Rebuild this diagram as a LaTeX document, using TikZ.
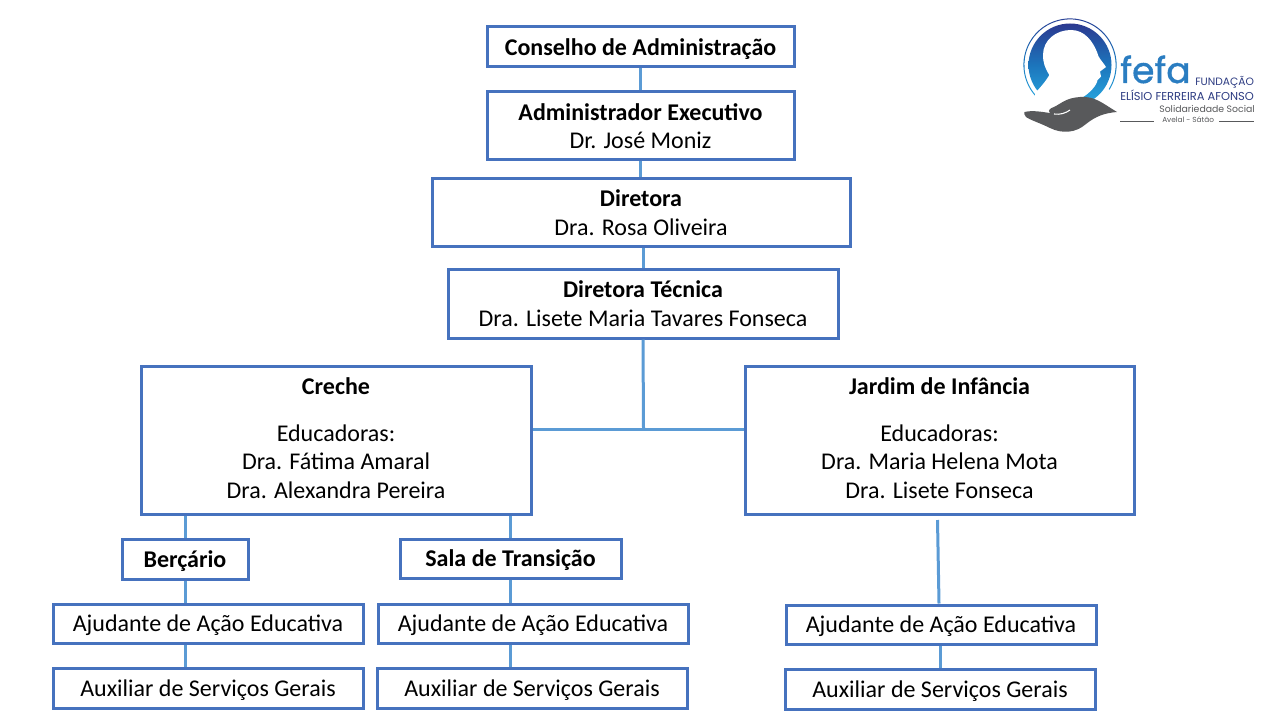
\documentclass[tikz,border=0pt]{standalone}
\usepackage{fontspec}
\setmainfont{Carlito}
\newfontfamily\logofont{Poppins}
\newfontfamily\fefafont[FakeBold=1.2]{Poppins}
\usepackage{xcolor}
\usetikzlibrary{positioning}
\definecolor{boxblue}{RGB}{70, 114, 190}
\definecolor{linkblue}{RGB}{91, 155, 213}
\definecolor{ringdark}{RGB}{43, 57, 144}
\definecolor{ringmid}{RGB}{28, 117, 188}
\definecolor{ringlight}{RGB}{41, 171, 226}
\definecolor{logonavy}{RGB}{45, 60, 130}
\definecolor{logogray}{RGB}{88, 89, 91}

\begin{document}
\begin{tikzpicture}[
    x=0.75pt, y=-0.75pt,
    orgbox/.style={rectangle, draw=boxblue, line width=2.25pt, fill=white, inner sep=0pt, font=\fontsize{18}{21.4}\selectfont, align=center},
    onebox/.style={orgbox, text depth=0.5pt},
    bigbox/.style={orgbox, text depth=3pt, minimum height=111pt},
    link/.style={linkblue, line width=2.25pt},
    logotext/.style={inner sep=0pt, anchor=base west, logonavy}
]
\useasboundingbox (0,0) rectangle (1280,720);

% Top of the chart
\node[onebox, minimum width=230.25pt, minimum height=30pt] (conselho) at (640.5,47) {\textbf{Conselho de Administração}};
\node[orgbox, minimum width=230.25pt, minimum height=51pt] (admin) at (640.5,126) {\textbf{Administrador Executivo}\\Dr. José Moniz};
\node[orgbox, minimum width=313.5pt, minimum height=50.25pt] (diretora) at (641,212.5) {\textbf{Diretora}\\Dra. Rosa Oliveira};
\node[orgbox, minimum width=292.5pt, minimum height=51.75pt] (tecnica) at (643,303.5) {\textbf{Diretora Técnica}\\Dra. Lisete Maria Tavares Fonseca};

% Creche and Jardim
\node[bigbox, minimum width=292.5pt] (creche) at (336,440) {\textbf{Creche}\\[13.5pt]Educadoras:\\Dra. Fátima Amaral\\Dra. Alexandra Pereira};
\node[bigbox, minimum width=291.75pt] (jardim) at (939.5,440) {\textbf{Jardim de Infância}\\[13.5pt]Educadoras:\\Dra. Maria Helena Mota\\Dra. Lisete Fonseca};

% Rooms
\node[onebox, minimum width=94.5pt, minimum height=30pt] (bercario) at (185,559) {\textbf{Berçário}};
\node[onebox, minimum width=165.75pt, minimum height=29.25pt] (sala) at (510.5,558.5) {\textbf{Sala de Transição}};

% Staff
\node[onebox, minimum width=232.5pt, minimum height=29.25pt] (ajudanteA) at (208,623.5) {Ajudante de Ação Educativa};
\node[onebox, minimum width=232.5pt, minimum height=29.25pt] (ajudanteB) at (533,623.5) {Ajudante de Ação Educativa};
\node[onebox, minimum width=232.5pt, minimum height=29.25pt] (ajudanteC) at (941,624.5) {Ajudante de Ação Educativa};
\node[onebox, minimum width=232.5pt, minimum height=30pt] (auxiliarA) at (208,688) {Auxiliar de Serviços Gerais};
\node[onebox, minimum width=232.5pt, minimum height=30pt] (auxiliarB) at (532,688) {Auxiliar de Serviços Gerais};
\node[onebox, minimum width=232.5pt, minimum height=30pt] (auxiliarC) at (940,689) {Auxiliar de Serviços Gerais};

\coordinate (junction) at (643.5,429);
\coordinate (jardimfoot) at (937.5,520);

% Connectors
\draw[link] (conselho) -- (admin);
\draw[link] (admin.south) -- (admin.south |- diretora.north);
\draw[link] (tecnica.north |- diretora.south) -- (tecnica.north);
\draw[link] (tecnica.south) -- (junction);
\draw[link] (junction -| creche.east) -- (junction -| jardim.west);
\draw[link] (creche.south -| bercario.north) -- (bercario.north);
\draw[link] (creche.south -| sala.north) -- (sala.north);
\draw[link] (bercario.south) -- (bercario.south |- ajudanteA.north);
\draw[link] (sala.south) -- (sala.south |- ajudanteB.north);
\draw[link] (ajudanteA.south -| bercario.south) -- (auxiliarA.north -| bercario.south);
\draw[link] (ajudanteB.south -| sala.south) -- (auxiliarB.north -| sala.south);
\draw[link] (jardimfoot) -- ([xshift=-1.5pt]ajudanteC.north);
\draw[link] (ajudanteC.south -| auxiliarC.north) -- (auxiliarC.north);

% Logo
\shade[top color=ringdark, bottom color=ringlight, middle color=ringmid, shift={(1070,65)}] (120:46.6) arc[start angle=120, end angle=392, radius=46.6]
    -- (392:45.6) arc[start angle=392, end angle=120, radius=45.6] -- cycle;
\shade[top color=ringdark, bottom color=ringlight, middle color=ringmid] (1070,65) circle[radius=41.5];
\fill[white] (1035,93) .. controls (1040,88) and (1046,81) .. (1049.3,75)
    .. controls (1045,68) and (1043,63) .. (1043,55)
    .. controls (1043,40) and (1056,30) .. (1071,30)
    .. controls (1085,30) and (1093,42) .. (1097,52)
    .. controls (1098,58) and (1103,62) .. (1106,67)
    -- (1100,71.5) -- (1101,76.5) -- (1097.5,80)
    .. controls (1097,85) and (1090,93) .. (1081.5,98)
    -- (1075,115) -- (1035,105) -- cycle;
\fill[logogray] (1024.5,112) .. controls (1033,110) and (1042,112) .. (1050,113)
    .. controls (1047,110) and (1051,108) .. (1054,107)
    .. controls (1062,103) and (1066,98) .. (1080,97)
    .. controls (1095,96) and (1102,103) .. (1117,112)
    .. controls (1105,113) and (1096,116) .. (1086,124)
    .. controls (1076,133) and (1062,134) .. (1050,128)
    .. controls (1040,123) and (1030,120) .. (1026,117)
    .. controls (1024,115) and (1024,113) .. (1024.5,112) -- cycle;
\draw[white, line width=0.8pt] (1054,114) .. controls (1060,115) and (1066,113) .. (1070,110);
\node[logotext, font=\fefafont\fontsize{27}{27}\selectfont, text=ringlight!60!ringdark] (fefa) at (1120,83) {fefa};
\node[logotext, font=\logofont\fontsize{8}{8}\selectfont] (fundacao) at (1195,86) {FUNDAÇÃO};
\node[logotext, font=\logofont\fontsize{8.6}{9}\selectfont] (elisio) at (1120,101) {ELÍSIO FERREIRA AFONSO};
\node[logotext, font=\logofont\fontsize{7}{8}\selectfont, text=logogray] (solidariedade) at (1159,113) {Solidariedade Social};
\node[logotext, font=\logofont\fontsize{5.5}{6}\selectfont, text=logogray] (avelal) at (1162,123) {Avelal - Sátão};
\draw[logogray, line width=0.5pt] (1120,121) -- (1154,121);
\draw[logogray, line width=0.5pt] (1219,121) -- (1254,121);
\end{tikzpicture}
\end{document}
